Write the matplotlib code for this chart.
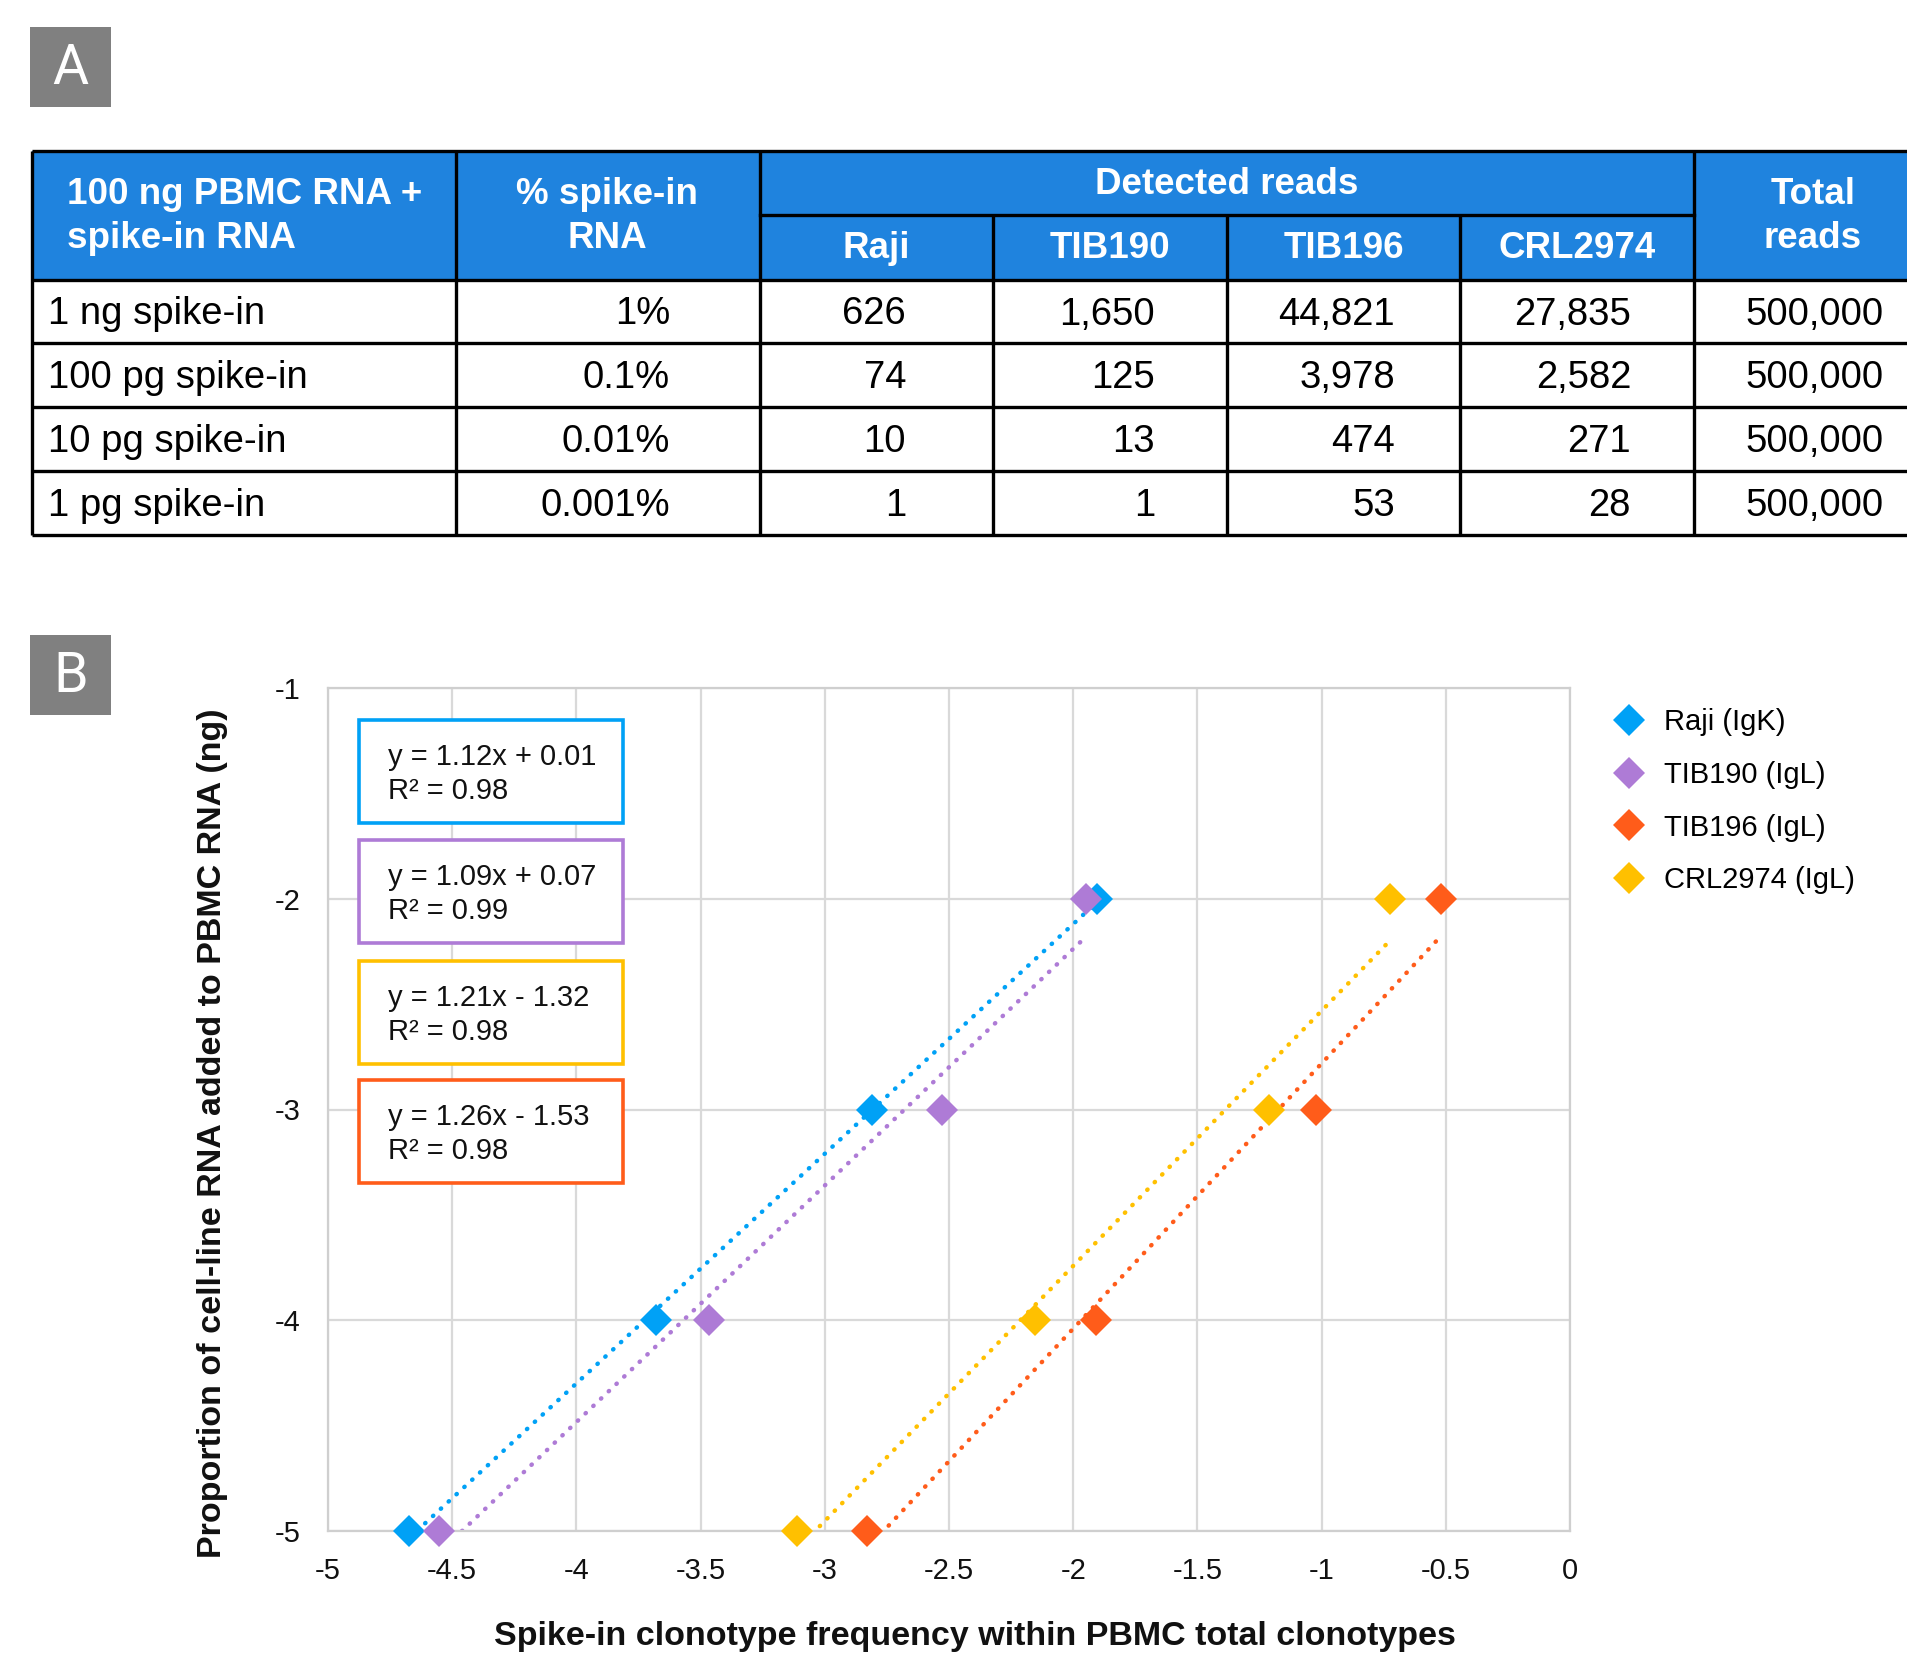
import numpy as np
import matplotlib
matplotlib.use("Agg")
import matplotlib.pyplot as plt
from matplotlib.patches import Rectangle

# ---------------- data ----------------
spike_labels = ["1 ng spike-in", "100 pg spike-in", "10 pg spike-in", "1 pg spike-in"]
pct_spike = ["1%", "0.1%", "0.01%", "0.001%"]
cell_lines = ["Raji", "TIB190", "TIB196", "CRL2974"]
reads_raji = [626, 74, 10, 1]
reads_tib190 = [1650, 125, 13, 1]
reads_tib196 = [44821, 3978, 474, 53]
reads_crl2974 = [27835, 2582, 271, 28]
total_reads = [500000, 500000, 500000, 500000]

series_labels = ["Raji (IgK)", "TIB190 (IgL)", "TIB196 (IgL)", "CRL2974 (IgL)"]
log_ng = [-2, -3, -4, -5]
freq_raji = [-1.905, -2.81, -3.678, -4.672]
freq_tib190 = [-1.949, -2.527, -3.467, -4.554]
freq_tib196 = [-0.519, -1.024, -1.910, -2.831]
freq_crl2974 = [-0.725, -1.210, -2.155, -3.110]
equations = ["y = 1.12x + 0.01\nR\u00b2 = 0.98",
             "y = 1.09x + 0.07\nR\u00b2 = 0.99",
             "y = 1.21x - 1.32\nR\u00b2 = 0.98",
             "y = 1.26x - 1.53\nR\u00b2 = 0.98"]
x_ticks = [-5, -4.5, -4, -3.5, -3, -2.5, -2, -1.5, -1, -0.5, 0]
x_ticklabels = ["-5", "-4.5", "-4", "-3.5", "-3", "-2.5", "-2", "-1.5", "-1", "-0.5", "0"]
y_ticks = [-1, -2, -3, -4, -5]
y_ticklabels = ["-1", "-2", "-3", "-4", "-5"]

# ---------------- style ----------------
FONT = ["Liberation Sans", "DejaVu Sans"]
plt.rcParams["font.family"] = FONT
W, H = 1907, 1653
DPI = 100
C_BLUE = "#00A1F6"
C_PURPLE = "#AE7BD6"
C_ORANGE = "#FF5C1A"
C_YELLOW = "#FFC000"
C_HEAD = "#1F83DE"

fig = plt.figure(figsize=(W / DPI, H / DPI), dpi=DPI)
fig.patch.set_facecolor("white")

# ---------------- panel B plot ----------------
ax_l, ax_r, ax_t, ax_b = 328, 1570, 688, 1531
ax = fig.add_axes([ax_l / W, 1 - ax_b / H, (ax_r - ax_l) / W, (ax_b - ax_t) / H])
ax.set_xlim(-5, 0)
ax.set_ylim(-5, -1)
ax.set_xticks(x_ticks)
ax.set_xticklabels(x_ticklabels)
ax.set_yticks(y_ticks)
ax.set_yticklabels(y_ticklabels)
ax.tick_params(length=0, labelsize=21, colors="#111111")
ax.tick_params(axis="x", pad=19)
ax.tick_params(axis="y", pad=20)
ax.grid(True, color="#D9D9D9", lw=1.6)
ax.set_axisbelow(True)
for s in ax.spines.values():
    s.set_color("#CFCFCF")
    s.set_linewidth(1.6)

series = [(freq_raji, C_BLUE), (freq_tib190, C_PURPLE),
          (freq_tib196, C_ORANGE), (freq_crl2974, C_YELLOW)]
# trendlines (least-squares fit over the data range)
for xs, col in series:
    xs = np.array(xs)
    m, b = np.polyfit(xs, log_ng, 1)
    xx = np.array([xs.min(), xs.max()])
    ax.plot(xx, m * xx + b, color=col, lw=3.2, linestyle=(0, (0.1, 2.3)),
            dash_capstyle="round", zorder=2)
handles = []
for (xs, col), lab in zip(series, series_labels):
    h, = ax.plot(xs, log_ng, linestyle="none", marker="D", markersize=16,
                 color=col, markeredgewidth=0, label=lab, zorder=3, clip_on=False)
    handles.append(h)

leg = fig.legend(handles=handles, loc="upper left",
                 bbox_to_anchor=(1614 / W, 1 - 708 / H), frameon=False,
                 fontsize=21, handlelength=1.0, handletextpad=0.7,
                 labelspacing=0.85, borderpad=0, borderaxespad=0)

# ---------------- overlay (pixel coordinates) ----------------
ov = fig.add_axes([0, 0, 1, 1], zorder=10)
ov.set_xlim(0, W)
ov.set_ylim(H, 0)
ov.axis("off")

# panel labels
for lab, y0 in (("A", 27), ("B", 635)):
    ov.add_patch(Rectangle((30, y0), 81, 80, facecolor="#808080", edgecolor="none"))
    ov.text(70.5, y0 + 41, lab, color="white", fontsize=40, ha="center", va="center",
            family=["Roboto", "DejaVu Sans"], fontweight="normal")

# equation boxes
box_cols = [C_BLUE, C_PURPLE, C_YELLOW, C_ORANGE]
box_tops = [720, 840, 961, 1080]
for eq, col, top in zip(equations, box_cols, box_tops):
    ov.add_patch(Rectangle((359, top), 264, 103, facecolor="white", edgecolor=col, lw=2.6))
    l1, l2 = eq.split("\n")
    ov.text(388, top + 37, l1, fontsize=21, ha="left", va="center", color="#111111")
    ov.text(388, top + 71, l2, fontsize=21, ha="left", va="center", color="#111111")

# axis titles
ov.text(213, 1133, "Proportion of cell-line RNA added to PBMC RNA (ng)", rotation=90,
        fontsize=24.5, fontweight="bold", ha="center", va="center", color="#111111")
ov.text(975, 1636, "Spike-in clonotype frequency within PBMC total clonotypes",
        fontsize=24.5, fontweight="bold", ha="center", va="center", color="#111111")

# ---------------- panel A table ----------------
col_edges = [32, 456, 760, 993, 1227, 1460, 1694, 1940]
top, mid, hbot = 151, 215, 280
row_edges = [280, 343, 407, 471, 535]
ov.add_patch(Rectangle((col_edges[0], top), col_edges[-1] - col_edges[0], hbot - top,
                       facecolor=C_HEAD, edgecolor="none"))
LW = 2.4
for y in [top, hbot] + row_edges[1:]:
    ov.plot([col_edges[0], col_edges[-1]], [y, y], color="black", lw=LW, solid_capstyle="butt")
ov.plot([col_edges[2], col_edges[6]], [mid, mid], color="black", lw=LW)
for i, x in enumerate(col_edges[:-1]):
    y0 = mid if i in (3, 4, 5) else top
    ov.plot([x, x], [y0, row_edges[-1]], color="black", lw=LW, solid_capstyle="butt")

HF = 26.5
hkw = dict(color="white", fontsize=HF, fontweight="bold", va="center")
ov.text(67, 194, "100 ng PBMC RNA +", ha="left", **hkw)
ov.text(67, 239, "spike-in RNA", ha="left", **hkw)
ov.text(607, 194, "% spike-in", ha="center", **hkw)
ov.text(607, 239, "RNA", ha="center", **hkw)
ov.text((col_edges[2] + col_edges[6]) / 2, 185, "Detected reads", ha="center", **hkw)
for i, name in enumerate(cell_lines):
    ov.text((col_edges[2 + i] + col_edges[3 + i]) / 2, 249, name, ha="center", **hkw)
ov.text(1813, 194, "Total", ha="center", **hkw)
ov.text(1813, 239, "reads", ha="center", **hkw)

DF = 27.5
row_centers = [(row_edges[i] + row_edges[i + 1]) / 2 + 3 for i in range(4)]
num_cols = [reads_raji, reads_tib190, reads_tib196, reads_crl2974, total_reads]
num_right = [906, 1155, 1395, 1631, 1884]
for r, yc in enumerate(row_centers):
    ov.text(48, yc, spike_labels[r], ha="left", va="center", fontsize=DF, color="black")
    ov.text(670, yc, pct_spike[r], ha="right", va="center", fontsize=DF, color="black")
    for vals, xr in zip(num_cols, num_right):
        ov.text(xr, yc, f"{vals[r]:,}", ha="right", va="center", fontsize=DF, color="black")

fig.savefig("out.png", dpi=DPI)
